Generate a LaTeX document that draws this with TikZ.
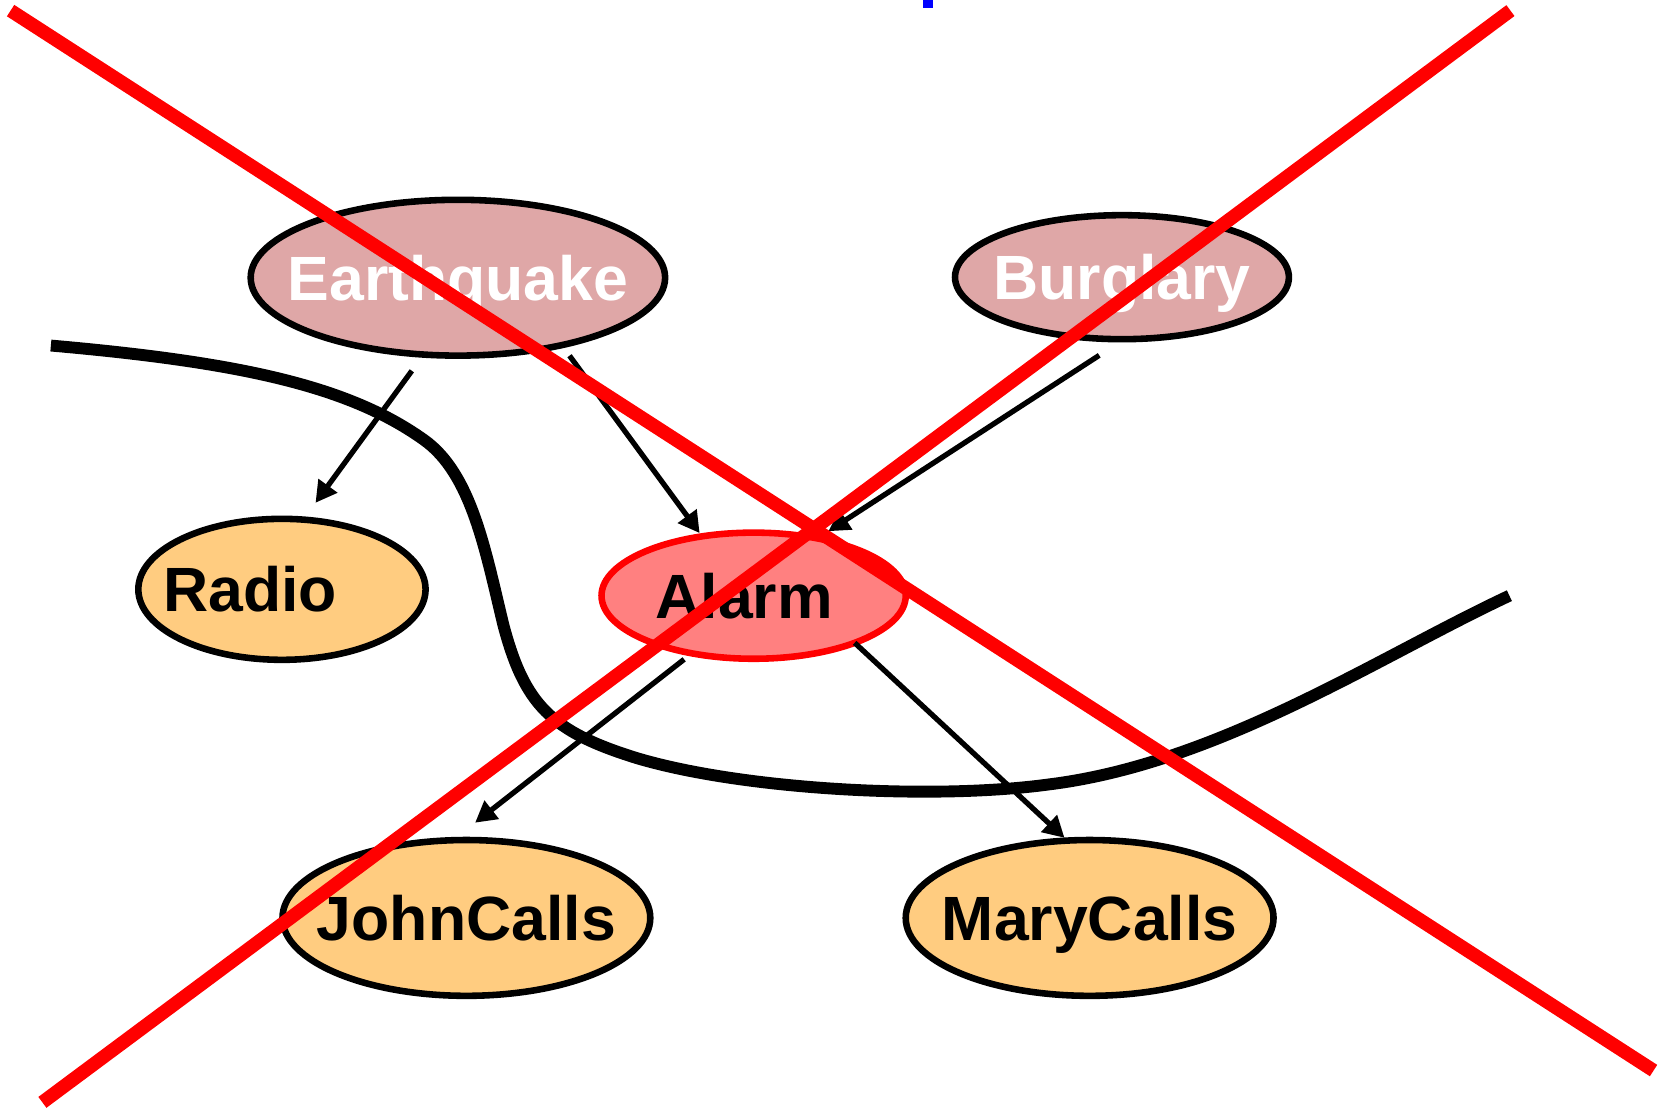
\documentclass[tikz,border=0pt]{standalone}
\usepackage{fontspec}
\setmainfont{Liberation Sans}
\usetikzlibrary{shapes.geometric,arrows.meta}
\definecolor{causefill}{RGB}{223,167,167}
\definecolor{effectfill}{RGB}{255,204,128}
\definecolor{alarmfill}{RGB}{255,128,128}
\begin{document}
\begin{tikzpicture}[x=0.5pt,y=-0.5pt,
  bn/.style={ellipse, draw=black, line width=3.1pt, inner sep=0pt, outer sep=0pt,
    text depth=0pt, font=\fontsize{29.5}{35}\selectfont\bfseries},
  cause/.style={bn, fill=causefill, text=white},
  effect/.style={bn, fill=effectfill, text=black},
  alarmnode/.style={bn, fill=alarmfill, draw=red, text=black},
  arr/.style={line width=2.5pt, -{Triangle[length=10pt,width=10.5pt]}},
  cross/.style={red, line width=6.4pt},
  divider/.style={line width=5.6pt}]
\useasboundingbox (0,0) rectangle (1568,1048.2);

% small blue mark at the top
\fill[blue] (871,0) rectangle (880,7.5);

% separating curve
\draw[divider] (48,326) .. controls (230,342) and (330,365) .. (400,415)
  .. controls (445,447) and (458,520) .. (475,590)
  .. controls (495,665) and (520,690) .. (600,715)
  .. controls (700,745) and (880,755) .. (990,740)
  .. controls (1150,720) and (1300,620) .. (1424,562);

% nodes
\node[cause, minimum width=195.5pt, minimum height=73.5pt] (eq) at (432,262) {\makebox[0pt]{Earthquake}};
\node[cause, minimum width=157.5pt, minimum height=58.5pt] (bu) at (1058.5,261.5) {\makebox[0pt]{Burglary}};
\node[effect, minimum width=135.5pt, minimum height=66.5pt] (radio) at (266,556) {\makebox[0pt]{\kern-30pt Radio}};
\node[alarmnode, minimum width=143.5pt, minimum height=59.5pt] (alarm) at (711,562) {\makebox[0pt]{\kern-9pt Alarm}};
\node[effect, minimum width=173.5pt, minimum height=73.5pt] (john) at (440,866) {\makebox[0pt]{JohnCalls}};
\node[effect, minimum width=173.5pt, minimum height=73.5pt] (mary) at (1028,866) {\makebox[0pt]{MaryCalls}};

% arrows
\draw[arr, shorten <=9.5pt, shorten >=9.8pt] (eq.-114.9) -- (radio.73.3);
\draw[arr, shorten <=6.2pt, shorten >=1.9pt] (eq.-33.7) -- (alarm.131.8);
\draw[arr, shorten <=14pt, shorten >=6.2pt] (bu.-88.5) -- (alarm.42.9);
\draw[arr, shorten <=4.6pt, shorten >=13.4pt] (alarm.-137.1) -- (john.100.8);
\draw[arr, shorten >=1.9pt] (alarm.-25.1) -- (mary.106.4);

% crossing-out lines
\draw[cross] (10,10) -- (1560,1010);
\draw[cross] (1425,10) -- (40,1040);
\end{tikzpicture}
\end{document}
